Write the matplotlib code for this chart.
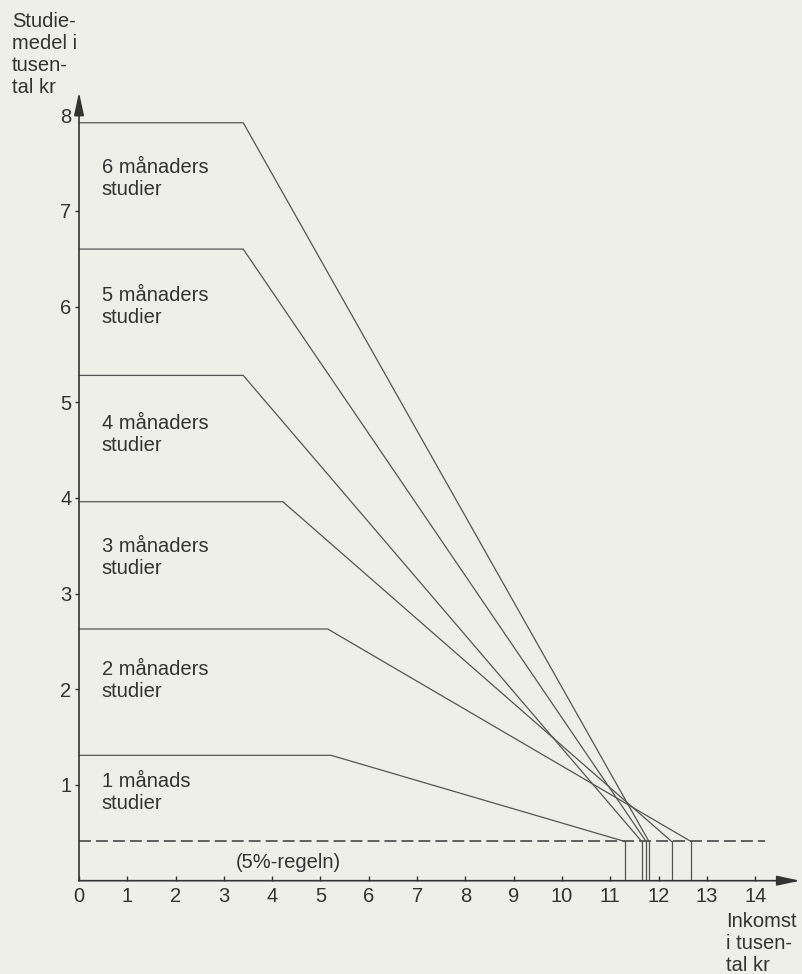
import matplotlib
matplotlib.use("Agg")
import matplotlib.pyplot as plt

# ---- data (thousand kr) ----
labels = ["1 månads\nstudier", "2 månaders\nstudier", "3 månaders\nstudier",
          "4 månaders\nstudier", "5 månaders\nstudier", "6 månaders\nstudier"]
levels = [1.31, 2.63, 3.96, 5.28, 6.60, 7.92]      # full study grant
breaks = [5.22, 5.15, 4.22, 3.40, 3.40, 3.40]      # income where reduction starts
ends = [11.30, 12.67, 12.27, 11.65, 11.74, 11.80]  # income where 5%-rule reached
threshold = 0.41                                   # 5%-regeln level
label_y = [0.92, 2.09, 3.38, 4.66, 6.00, 7.34]
xticks = list(range(0, 15))
yticks = list(range(1, 9))

BG = "#efefe9"
INK = "#333333"
LINE = "#555555"
FONT = "Liberation Sans"
FS = 14.5
plt.rcParams['font.family'] = [FONT, 'DejaVu Sans']

W, H = 803, 974
fig = plt.figure(figsize=(W / 100, H / 100), dpi=100, facecolor=BG)

x0_px, px_per_x = 79, 48.3
y0_px, px_per_y = 880.7, 95.7
xmax, ymax = 14.93, 8.24
ax = fig.add_axes([x0_px / W, (H - y0_px) / H,
                   xmax * px_per_x / W, ymax * px_per_y / H])
ax.set_facecolor(BG)
ax.set_xlim(0, xmax)
ax.set_ylim(0, ymax)
for s in ax.spines.values():
    s.set_visible(False)

# axes with arrows
arrow = dict(arrowstyle="-|>,head_length=1.4,head_width=0.3",
             color=INK, lw=1.2, shrinkA=0, shrinkB=0)
ax.annotate("", xy=(xmax, 0), xytext=(0, 0), arrowprops=arrow,
            annotation_clip=False)
ax.annotate("", xy=(0, ymax), xytext=(0, 0), arrowprops=arrow,
            annotation_clip=False)

ax.set_xticks(xticks)
ax.set_yticks(yticks)
ax.tick_params(axis='x', direction='in', length=3.5, width=1, color=INK,
               labelsize=FS, labelcolor=INK, pad=4.5)
ax.tick_params(axis='y', direction='out', length=3, width=1, color=INK,
               labelsize=FS, labelcolor=INK, pad=2.5)

# curves
for lev, b, e in zip(levels, breaks, ends):
    ax.plot([0, b, e], [lev, lev, threshold], color=LINE, lw=0.9,
            solid_joinstyle='miter', clip_on=False)
    ax.plot([e, e], [threshold, 0], color=LINE, lw=0.9)

# dashed 5% line
ax.plot([0, 14.2], [threshold, threshold], color=LINE, lw=1.3,
        dashes=(6.6, 2.8), clip_on=False)

for lab, ly in zip(labels, label_y):
    ax.text(0.47, ly, lab, fontsize=FS, color=INK, va='center', ha='left',
            linespacing=1.22)

ax.text(4.33, 0.19, "(5%-regeln)", fontsize=FS, color=INK,
        ha='center', va='center')

fig.text(12 / W, 1 - 12 / H, "Studie-\nmedel i\ntusen-\ntal kr",
         fontsize=FS, color=INK, ha='left', va='top', linespacing=1.2)
fig.text(726 / W, 1 - 912 / H, "Inkomst\ni tusen-\ntal kr",
         fontsize=FS, color=INK, ha='left', va='top', linespacing=1.2)

fig.savefig("out.png", dpi=100, facecolor=BG)
